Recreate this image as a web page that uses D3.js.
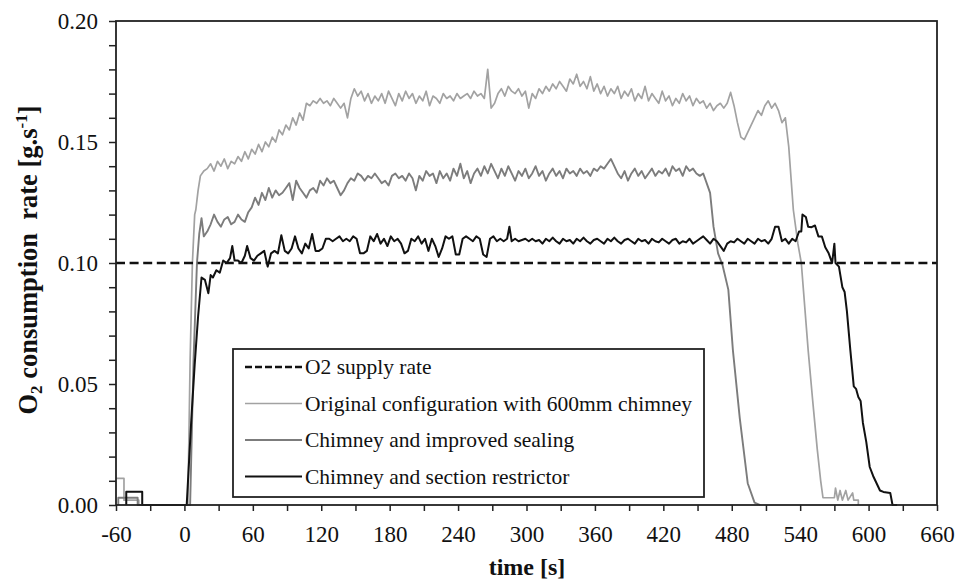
<!DOCTYPE html>
<html><head><meta charset="utf-8">
<script src="https://cdn.jsdelivr.net/npm/d3@7"></script>
<style>body{margin:0;background:#fff}svg{display:block}text{font-family:"Liberation Serif","Times New Roman",serif;fill:#111}</style>
</head><body><svg id="c" width="960" height="580"></svg>
<script>
const xTicks = [-60,0,60,120,180,240,300,360,420,480,540,600,660];
const yTicks = [0,0.05,0.10,0.15,0.20];
const supplyRate = 0.10;
const seriesNames = ["O2 supply rate","Original configuration with 600mm chimney","Chimney and improved sealing","Chimney and section restrictor"];

// Original configuration with 600mm chimney  [time s, g/s]
const original = [[-60,0.011],[-53,0.011],[-53,0.002],[-40,0.002],[-40,0],[3,0],[5,0.06],[7,0.10],[9,0.12],[10,0.122],[12,0.13],[14,0.136],[17,0.138],
[20,0.139],[23,0.141],[26,0.138],[29,0.142],[32,0.140],[35,0.143],[38,0.139],[41,0.142],[44,0.141],[47,0.144],
[50,0.142],[53,0.146],[56,0.143],[59,0.147],[62,0.145],[65,0.149],[68,0.146],[71,0.150],[74,0.148],[77,0.152],
[80,0.150],[83,0.155],[86,0.153],[89,0.157],[92,0.155],[95,0.160],[98,0.157],[101,0.162],[104,0.159],[107,0.166],
[110,0.165],[113,0.167],[116,0.166],[119,0.168],[122,0.166],[125,0.167],[128,0.165],[131,0.168],[134,0.166],[137,0.164],
[140,0.166],[143,0.160],[146,0.168],[149,0.172],[152,0.169],[155,0.171],[158,0.167],[161,0.170],[164,0.166],[167,0.169],
[170,0.167],[173,0.170],[176,0.166],[179,0.171],[182,0.168],[185,0.165],[188,0.170],[191,0.167],[194,0.171],[197,0.168],
[200,0.170],[203,0.166],[206,0.169],[209,0.167],[212,0.171],[215,0.165],[218,0.169],[221,0.168],[224,0.166],[227,0.170],
[230,0.168],[233,0.169],[236,0.167],[239,0.170],[242,0.168],[245,0.169],[248,0.170],[251,0.168],[254,0.171],[257,0.169],
[260,0.170],[263,0.168],[266,0.180],[269,0.164],[272,0.166],[275,0.170],[278,0.172],[281,0.169],[284,0.173],[287,0.171],
[290,0.170],[293,0.172],[296,0.169],[299,0.171],[302,0.164],[305,0.170],[308,0.168],[311,0.172],[314,0.170],[317,0.173],
[320,0.171],[323,0.174],[326,0.172],[329,0.175],[332,0.173],[335,0.171],[338,0.176],[341,0.174],[344,0.178],[347,0.173],
[350,0.175],[353,0.172],[356,0.177],[359,0.171],[362,0.174],[365,0.170],[368,0.173],[371,0.169],[374,0.172],[377,0.170],
[380,0.173],[383,0.168],[386,0.171],[389,0.169],[392,0.172],[395,0.167],[398,0.170],[401,0.168],[404,0.173],[407,0.167],
[410,0.170],[413,0.168],[416,0.166],[419,0.171],[422,0.167],[425,0.169],[428,0.165],[431,0.168],[434,0.166],[437,0.170],
[440,0.167],[443,0.169],[446,0.165],[449,0.168],[452,0.166],[455,0.167],[458,0.164],[461,0.166],[464,0.163],[467,0.165],
[470,0.166],[473,0.164],[476,0.166],[479,0.1705],[482,0.165],[485,0.158],[488,0.152],[491,0.151],[494,0.154],[497,0.157],
[500,0.160],[503,0.163],[506,0.161],[509,0.165],[512,0.167],[515,0.164],[518,0.166],[521,0.163],[524,0.158],[527,0.160],
[530,0.148],[534,0.122],[538,0.108],[541,0.100],[544,0.082],[547,0.064],[551,0.043],[555,0.023],[558,0.010],[560,0.003],
[570,0.003],[571,0.007],[573,0.002],[575,0.006],[577,0.002],[580,0.006],[582,0.002],[586,0.005],[587,0.002],[591,0.002],[591,0]];

// Chimney and improved sealing
const sealing = [[-58,0],[-58,0.003],[-41,0.003],[-41,0],[5,0],[8,0.06],[11,0.100],[13,0.112],[15,0.1185],[17,0.111],
[20,0.113],[23,0.116],[26,0.120],[29,0.117],[32,0.115],[35,0.118],[38,0.119],[41,0.116],[44,0.117],[47,0.120],
[50,0.118],[53,0.117],[56,0.121],[59,0.123],[62,0.127],[65,0.124],[68,0.129],[71,0.126],[74,0.131],[77,0.127],
[80,0.130],[83,0.128],[86,0.129],[89,0.131],[92,0.133],[95,0.126],[98,0.134],[101,0.131],[104,0.129],[107,0.127],
[110,0.130],[113,0.131],[116,0.129],[119,0.134],[122,0.132],[125,0.135],[128,0.133],[131,0.134],[134,0.131],[137,0.128],
[140,0.130],[143,0.133],[146,0.135],[149,0.134],[152,0.137],[155,0.136],[158,0.134],[161,0.136],[164,0.135],[167,0.137],
[170,0.135],[173,0.133],[176,0.134],[179,0.132],[182,0.136],[185,0.137],[188,0.135],[191,0.136],[194,0.134],[197,0.137],
[200,0.135],[203,0.130],[206,0.136],[209,0.134],[212,0.138],[215,0.136],[218,0.137],[221,0.133],[224,0.138],[227,0.135],
[230,0.137],[233,0.134],[236,0.139],[239,0.136],[242,0.141],[245,0.135],[248,0.138],[251,0.133],[254,0.137],[257,0.139],
[260,0.136],[263,0.140],[266,0.137],[269,0.141],[272,0.138],[275,0.135],[278,0.139],[281,0.136],[284,0.140],[287,0.137],
[290,0.134],[293,0.138],[296,0.136],[299,0.139],[302,0.135],[305,0.137],[308,0.140],[311,0.136],[314,0.138],[317,0.134],
[320,0.137],[323,0.139],[326,0.136],[329,0.138],[332,0.135],[335,0.139],[338,0.137],[341,0.138],[344,0.136],[347,0.139],
[350,0.137],[353,0.138],[356,0.136],[359,0.139],[362,0.138],[365,0.140],[368,0.139],[371,0.141],[374,0.143],[377,0.140],
[380,0.137],[383,0.135],[386,0.138],[389,0.134],[392,0.137],[395,0.139],[398,0.136],[401,0.138],[404,0.135],[407,0.137],
[410,0.139],[413,0.136],[416,0.138],[419,0.137],[422,0.139],[425,0.136],[428,0.140],[431,0.138],[434,0.139],[437,0.136],
[440,0.140],[443,0.138],[446,0.139],[449,0.137],[452,0.136],[455,0.137],[458,0.133],[461,0.129],[464,0.115],[468,0.104],
[472,0.099],[477,0.089],[481,0.064],[487,0.036],[494,0.009],[500,0.001],[505,0]];

// Chimney and section restrictor
const restrictor = [[-51,0],[-51,0.0055],[-37,0.0055],[-37,0],[2,0],[6,0.035],[9,0.058],[12,0.078],[15,0.094],[18,0.093],[21,0.0875],[23,0.095],[25,0.094],[28,0.097],[31,0.096],[34,0.101],
[37,0.100],[40,0.102],[42,0.107],[44,0.101],[47,0.101],[50,0.100],[53,0.103],[55,0.107],[58,0.102],[61,0.101],
[64,0.103],[67,0.104],[70,0.105],[73,0.0985],[76,0.104],[79,0.105],[82,0.104],[85,0.1115],[88,0.105],[91,0.104],[94,0.106],
[97,0.111],[100,0.106],[103,0.104],[106,0.108],[109,0.106],[112,0.112],[115,0.105],[118,0.105],[121,0.106],[124,0.110],
[127,0.110],[130,0.109],[133,0.110],[136,0.111],[139,0.109],[142,0.110],[145,0.109],[148,0.111],[151,0.110],[154,0.104],
[157,0.104],[160,0.105],[163,0.111],[166,0.109],[169,0.112],[172,0.108],[175,0.110],[178,0.107],[181,0.111],[184,0.109],
[187,0.110],[190,0.108],[193,0.104],[196,0.105],[199,0.110],[202,0.109],[205,0.111],[208,0.108],[211,0.110],[214,0.105],
[217,0.110],[220,0.107],[223,0.1025],[226,0.106],[229,0.111],[232,0.110],[235,0.111],[238,0.1035],[241,0.1035],[244,0.110],
[247,0.111],[250,0.110],[253,0.109],[256,0.111],[259,0.110],[262,0.1035],[265,0.1025],[268,0.110],[271,0.111],[274,0.109],
[277,0.110],[280,0.109],[283,0.110],[285,0.115],[287,0.109],[290,0.110],[293,0.109],[296,0.1095],[299,0.110],[302,0.109],
[305,0.110],[308,0.109],[311,0.1095],[314,0.108],[317,0.110],[320,0.109],[323,0.1105],[326,0.109],[329,0.108],[332,0.110],
[335,0.109],[338,0.1095],[341,0.108],[344,0.110],[347,0.109],[350,0.1105],[353,0.109],[356,0.108],[359,0.1095],[362,0.110],
[365,0.109],[368,0.108],[371,0.110],[374,0.109],[377,0.1105],[380,0.109],[383,0.108],[386,0.1095],[389,0.110],[392,0.109],
[395,0.108],[398,0.110],[401,0.109],[404,0.1095],[407,0.108],[410,0.110],[413,0.109],[416,0.1085],[419,0.110],[422,0.109],
[425,0.108],[428,0.1095],[431,0.110],[434,0.108],[437,0.109],[440,0.1085],[443,0.110],[446,0.108],[449,0.109],[452,0.110],
[455,0.111],[458,0.1095],[461,0.108],[464,0.110],[467,0.109],[470,0.107],[473,0.105],[476,0.108],[479,0.109],[482,0.1085],
[485,0.110],[488,0.109],[491,0.108],[494,0.110],[497,0.109],[500,0.108],[503,0.110],[506,0.109],[509,0.1095],[512,0.108],
[515,0.110],[518,0.115],[521,0.115],[524,0.109],[527,0.110],[530,0.108],[533,0.110],[536,0.109],[539,0.113],[541,0.113],
[542,0.120],[545,0.119],[547,0.115],[550,0.1148],[553,0.1155],[556,0.111],[559,0.111],[562,0.1065],[565,0.104],[568,0.100],
[570,0.108],[571,0.100],[574,0.0985],[577,0.090],[579,0.088],[581,0.080],[584,0.064],[587,0.049],[589,0.048],[591,0.0446],
[593,0.043],[595,0.034],[598,0.026],[601,0.0157],[604,0.012],[607,0.009],[610,0.006],[613,0.0054],[619,0.005],[621,0],[625,0]];

const svg = d3.select("#c");
const L = 116, R = 937, T = 21, B = 505;
const x = d3.scaleLinear().domain([-60,660]).range([L,R]);
const y = d3.scaleLinear().domain([0,0.20]).range([B,T]);

// axes
const xAxis = d3.axisBottom(x).tickValues(d3.range(-60,661,30)).tickSize(6)
  .tickFormat(d => xTicks.includes(d) ? d : "");
const yAxis = d3.axisLeft(y).tickValues(d3.range(0,0.2001,0.01)).tickSize(7)
  .tickFormat(d => yTicks.some(v => Math.abs(v-d)<1e-9) ? d3.format(".2f")(d) : "");
const gx = svg.append("g").attr("transform",`translate(0,${B})`).call(xAxis);
const gy = svg.append("g").attr("transform",`translate(${L},0)`).call(yAxis);
[gx,gy].forEach(g=>{
  g.attr("font-family",null);
  g.select(".domain").remove();
  g.selectAll(".tick line").attr("stroke","#222").attr("stroke-width",1.5);
  g.selectAll(".tick text").attr("font-size",23).attr("fill","#111");
});
gx.selectAll(".tick text").attr("dy",0).attr("y",37);
gy.selectAll(".tick text").attr("x",-18).attr("dy","0.33em");

const line = d3.line().x(d=>x(d[0])).y(d=>y(d[1]));
const plot = svg.append("g");
plot.append("path").datum(original).attr("d",line).attr("fill","none").attr("stroke","#a2a2a2").attr("stroke-width",1.7).attr("stroke-linejoin","round");
plot.append("path").datum(sealing).attr("d",line).attr("fill","none").attr("stroke","#7c7c7c").attr("stroke-width",1.9).attr("stroke-linejoin","round");
plot.append("path").datum(restrictor).attr("d",line).attr("fill","none").attr("stroke","#111").attr("stroke-width",2).attr("stroke-linejoin","round");
plot.append("line").attr("x1",x(-60)).attr("x2",x(660)).attr("y1",y(supplyRate)).attr("y2",y(supplyRate))
  .attr("stroke","#111").attr("stroke-width",2.6).attr("stroke-dasharray","9,4.6");

// frame
svg.append("rect").attr("x",L).attr("y",T).attr("width",R-L).attr("height",B-T)
  .attr("fill","none").attr("stroke","#222").attr("stroke-width",1.8);

// legend
const lg = svg.append("g");
lg.append("rect").attr("x",233).attr("y",349).attr("width",471).attr("height",148).attr("fill","#fff").attr("stroke","#222").attr("stroke-width",1.8);
const styles = [
  {c:"#111",w:2.4,dash:"7,3"},
  {c:"#a2a2a2",w:1.6,dash:null},
  {c:"#7c7c7c",w:1.8,dash:null},
  {c:"#111",w:2,dash:null}];
seriesNames.forEach((n,i)=>{
  const cy = 367 + i*36.5;
  const l = lg.append("line").attr("x1",245).attr("x2",302).attr("y1",cy).attr("y2",cy)
    .attr("stroke",styles[i].c).attr("stroke-width",styles[i].w);
  if(styles[i].dash) l.attr("stroke-dasharray",styles[i].dash);
  lg.append("text").attr("x",305).attr("y",cy).attr("dy","0.34em").attr("font-size",21.5).text(n);
});

// axis titles
svg.append("text").attr("x",527).attr("y",575).attr("text-anchor","middle").attr("font-size",24).attr("font-weight","bold").text("time [s]");
const yt = svg.append("text").attr("transform","translate(37,260) rotate(-90)").attr("text-anchor","middle")
  .attr("font-size",26.5).attr("font-weight","bold");
yt.append("tspan").text("O");
yt.append("tspan").attr("font-size",17).attr("dy",5).text("2");
yt.append("tspan").attr("dy",-5).text(" consumption\u00a0 rate [g.s");
yt.append("tspan").attr("font-size",17).attr("dy",-10).text("-1");
yt.append("tspan").attr("dy",10).text("]");
</script></body></html>
